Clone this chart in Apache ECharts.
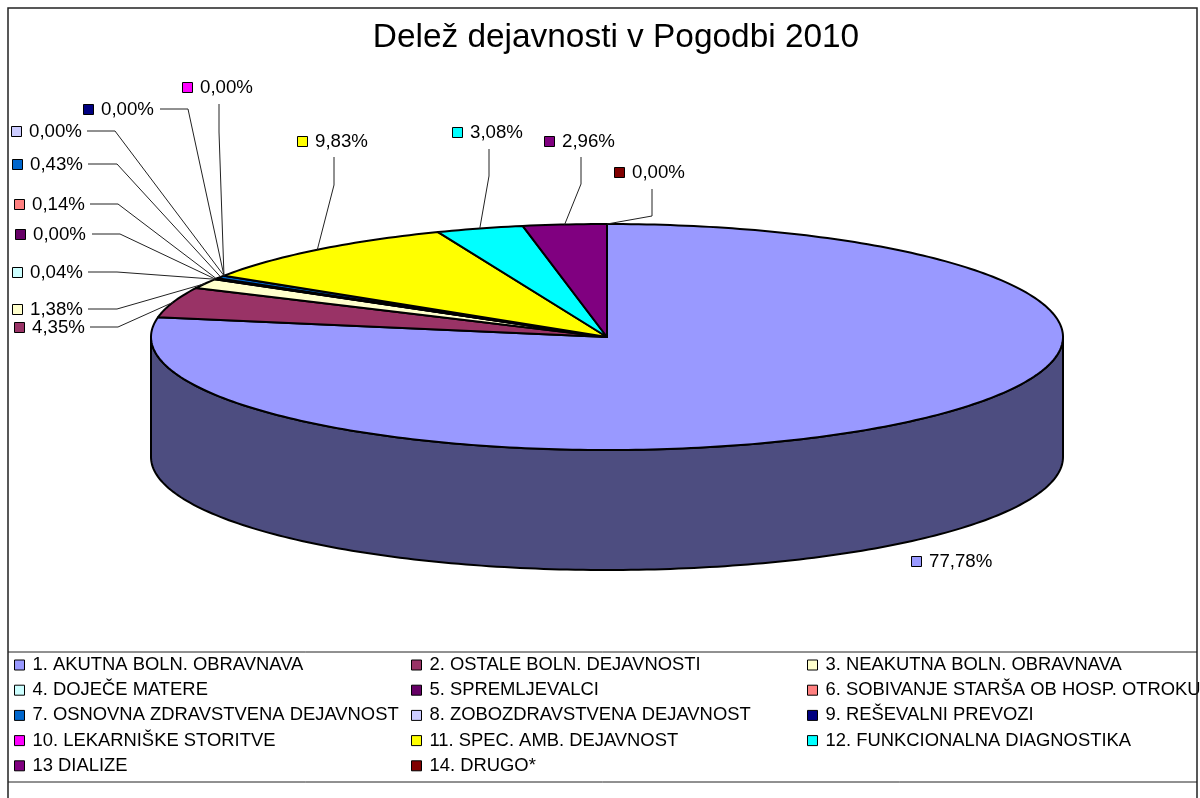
<!DOCTYPE html>
<html>
<head>
<meta charset="utf-8">
<title>Delež dejavnosti v Pogodbi 2010</title>
<script src="https://cdn.jsdelivr.net/npm/echarts@6/dist/echarts.min.js"></script>
<style>
    html, body { margin: 0; padding: 0; background: #fff; }
    #chart { width: 1200px; height: 798px; }
</style>
</head>
<body>
<div id="chart"></div>
<script>
var categories = [
    '1. AKUTNA BOLN. OBRAVNAVA', '2. OSTALE BOLN. DEJAVNOSTI', '3. NEAKUTNA BOLN. OBRAVNAVA',
    '4. DOJEČE MATERE', '5. SPREMLJEVALCI', '6. SOBIVANJE STARŠA OB HOSP. OTROKU',
    '7. OSNOVNA ZDRAVSTVENA DEJAVNOST', '8. ZOBOZDRAVSTVENA DEJAVNOST', '9. REŠEVALNI PREVOZI',
    '10. LEKARNIŠKE STORITVE', '11. SPEC. AMB. DEJAVNOST', '12. FUNKCIONALNA DIAGNOSTIKA',
    '13 DIALIZE', '14. DRUGO*'
];
var shares = [77.78, 4.35, 1.38, 0.04, 0.00, 0.14, 0.43, 0.00, 0.00, 0.00, 9.83, 3.08, 2.96, 0.00];

var colors = ['#9999FF', '#993366', '#FFFFCC', '#CCFFFF', '#660066', '#FF8080', '#0066CC',
    '#CCCCFF', '#000080', '#FF00FF', '#FFFF00', '#00FFFF', '#800080', '#800000'];
var wallColors = ['#4D4D80', '#4D1A33', '#808066', '#668080', '#330033', '#804040', '#003366',
    '#666680', '#000040', '#800080', '#808000', '#008080', '#400040', '#400000'];

// where each data label sits, and the elbow of its leader line
var labelBoxes = [[911, 556], [14, 322], [12, 304], [12, 267], [15, 229], [14, 199], [12, 159],
    [11, 126], [83, 104], [182, 82], [297, 136], [452, 127], [544, 136], [614, 167]];
var leaderStarts = [null, [90, 327], [88, 309], [88, 272], [92, 234], [90, 204], [88, 164],
    [87, 131], [160, 109], [219, 104], [334, 157], [489, 149], [581, 157], [652, 189]];
var leaderElbows = [null, [118, 327], [117, 309], [117, 272], [120, 234], [118, 204], [117, 164],
    [115, 131], [188, 109], [219, 132], [334, 185], [489, 176], [581, 184], [652, 216]];

var pie = { cx: 607, cy: 337, rx: 456, ry: 113, depth: 120 };
var total = shares.reduce(function (a, b) { return a + b; }, 0);

function edgePoint(deg, drop) {
    var rad = deg * Math.PI / 180;
    return [pie.cx + pie.rx * Math.sin(rad), pie.cy - pie.ry * Math.cos(rad) + (drop || 0)];
}

function arcPoints(from, to, drop) {
    var pts = [];
    var steps = Math.max(1, Math.ceil(to - from));
    for (var i = 0; i <= steps; i++) {
        pts.push(edgePoint(from + (to - from) * i / steps, drop));
    }
    return pts;
}

function startAngle(index) {
    var sum = 0;
    for (var i = 0; i < index; i++) sum += shares[i];
    return sum / total * 360;
}

function formatShare(v) {
    return v.toFixed(2).replace('.', ',') + '%';
}

function makeRenderItem(index) {
    return function (params, api) {
        var value = api.value(0);
        var from = startAngle(index);
        var to = from + value / total * 360;
        var children = [];

        // side wall, only the front half of the pie shows
        var wallFrom = Math.max(from, 90);
        var wallTo = Math.min(to, 270);
        if (wallTo > wallFrom) {
            children.push({
                type: 'polygon',
                shape: { points: arcPoints(wallFrom, wallTo).concat(arcPoints(wallFrom, wallTo, pie.depth).reverse()) },
                style: { fill: wallColors[index], stroke: '#000', lineWidth: 2 }
            });
        }

        if (value > 0) {
            children.push({
                type: 'polygon',
                shape: { points: [[pie.cx, pie.cy]].concat(arcPoints(from, to)) },
                style: { fill: colors[index], stroke: '#000', lineWidth: 2, lineJoin: 'round' }
            });
        }

        if (leaderStarts[index]) {
            children.push({
                type: 'polyline',
                shape: { points: [leaderStarts[index], leaderElbows[index], edgePoint((from + to) / 2)] },
                style: { fill: null, stroke: '#222', lineWidth: 1 },
                z2: 5
            });
        }

        var box = labelBoxes[index];
        children.push({
            type: 'rect',
            shape: { x: box[0] + 0.5, y: box[1] + 0.5, width: 10, height: 10 },
            style: { fill: colors[index], stroke: '#000', lineWidth: 1 },
            z2: 6
        });
        children.push({
            type: 'text',
            style: {
                text: formatShare(value),
                x: box[0] + 18,
                y: box[1] + 6,
                textVerticalAlign: 'middle',
                fill: '#000',
                font: '18.7px "Liberation Sans"'
            },
            z2: 6
        });

        return { type: 'group', children: children };
    };
}

function legendColumn(col, left) {
    return {
        orient: 'vertical',
        left: left,
        top: 656,
        padding: 0,
        itemWidth: 10,
        itemHeight: 10,
        itemGap: 7.2,
        icon: 'rect',
        selectedMode: false,
        itemStyle: { borderColor: '#000', borderWidth: 1 },
        textStyle: { color: '#000', fontFamily: 'Liberation Sans', fontSize: 18.4, padding: [0, 0, 0, 3] },
        data: categories.filter(function (c, i) { return i % 3 === col; })
    };
}

var chart = echarts.init(document.getElementById('chart'));

chart.setOption({
    animation: false,
    backgroundColor: '#fff',
    title: {
        text: 'Delež dejavnosti v Pogodbi 2010',
        left: 611,
        top: 16,
        textAlign: 'center',
        textStyle: { color: '#000', fontFamily: 'Liberation Sans', fontSize: 33.4, fontWeight: 'normal' }
    },
    legend: [legendColumn(0, 14), legendColumn(1, 411), legendColumn(2, 807)],
    graphic: [
        { type: 'rect', shape: { x: 8, y: 8, width: 1189, height: 800 }, style: { fill: null, stroke: '#222', lineWidth: 1.5 }, z: 10 },
        { type: 'line', shape: { x1: 8, y1: 652, x2: 1197, y2: 652 }, style: { stroke: '#222', lineWidth: 1 }, z: 10 },
        { type: 'line', shape: { x1: 8, y1: 782, x2: 1197, y2: 782 }, style: { stroke: '#222', lineWidth: 1 }, z: 10 }
    ],
    series: categories.map(function (name, i) {
        return {
            type: 'custom',
            name: name,
            coordinateSystem: 'none',
            itemStyle: { color: colors[i] },
            data: [shares[i]],
            renderItem: makeRenderItem(i)
        };
    })
});
</script>
</body>
</html>
